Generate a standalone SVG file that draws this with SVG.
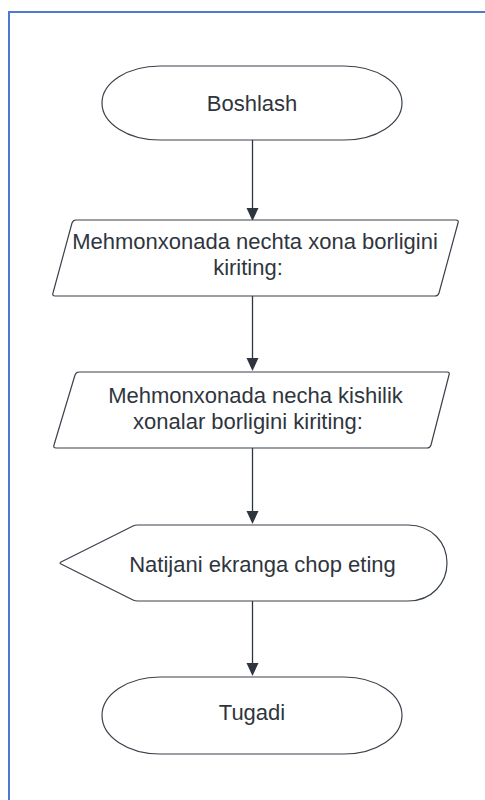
<svg xmlns="http://www.w3.org/2000/svg" width="485" height="800" viewBox="0 0 485 800">
  <style>
    .shape { fill: #ffffff; stroke: #3a414a; stroke-width: 1.2; stroke-linejoin: round; }
    .label { font-family: "Liberation Sans", Arial, sans-serif; font-size: 22px; fill: #2f353d; text-anchor: middle; }
    .conn { stroke: #2f353d; stroke-width: 1.3; fill: none; }
    .frame { stroke: #4a7bd0; stroke-width: 2; fill: none; }
  </style>
  <defs>
    <marker id="arrow" markerWidth="12" markerHeight="13" refX="6" refY="13" orient="auto-start-reverse" markerUnits="userSpaceOnUse" viewBox="0 0 12 13">
      <path d="M0,0 L12,0 L6,13 Z" fill="#2f353d" transform="rotate(0)"/>
    </marker>
  </defs>
  <rect width="485" height="800" fill="#ffffff"/>
  <path class="frame" d="M9,800 V12 H485"/>

  <g id="connectors">
    <line class="conn" x1="252.5" y1="140" x2="252.5" y2="208"/>
    <path d="M246.5,208 L258.5,208 L252.5,221 Z" fill="#2f353d"/>
    <line class="conn" x1="252.5" y1="296" x2="252.5" y2="358"/>
    <path d="M246.5,358 L258.5,358 L252.5,371 Z" fill="#2f353d"/>
    <line class="conn" x1="252.5" y1="448" x2="252.5" y2="511"/>
    <path d="M246.5,511 L258.5,511 L252.5,524 Z" fill="#2f353d"/>
    <line class="conn" x1="252.5" y1="601" x2="252.5" y2="663"/>
    <path d="M246.5,663 L258.5,663 L252.5,676 Z" fill="#2f353d"/>
  </g>

  <g id="start">
    <rect class="shape" x="102" y="66" width="300" height="74" rx="58" ry="37"/>
    <text class="label" x="252" y="111">Boshlash</text>
  </g>

  <g id="input1">
    <path class="shape" d="M76,220 H456 Q459,220 458,223 L439,293 Q438,296 435,296 H55 Q52,296 53,293 L72,223 Q73,220 76,220 Z"/>
    <text class="label" x="255" y="249">Mehmonxonada nechta xona borligini</text>
    <text class="label" x="248" y="275">kiriting:</text>
  </g>

  <g id="input2">
    <path class="shape" d="M79,372 H447 Q450,372 449,375 L431,445 Q430,448 427,448 H56 Q53,448 54,445 L75,375 Q76,372 79,372 Z"/>
    <text class="label" x="255.5" y="403">Mehmonxonada necha kishilik</text>
    <text class="label" x="248" y="429">xonalar borligini kiriting:</text>
  </g>

  <g id="output">
    <path class="shape" d="M61,564 Q59,563 61,562 L133,526 Q135,525 138,525 H408 C432,525 447,543 447,563 C447,583 432,601 408,601 H138 Q135,601 133,600 Z"/>
    <text class="label" x="262.5" y="572">Natijani ekranga chop eting</text>
  </g>

  <g id="end">
    <rect class="shape" x="102" y="677" width="300" height="77" rx="58" ry="38.5"/>
    <text class="label" x="252" y="720">Tugadi</text>
  </g>
</svg>
